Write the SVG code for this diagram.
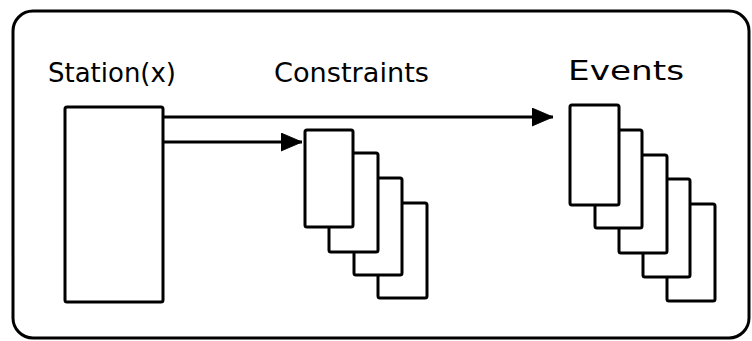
<svg xmlns="http://www.w3.org/2000/svg" width="752" height="341" viewBox="0 0 752 341">
<defs>
<style>
.ln{fill:none;stroke:#000;stroke-width:3;stroke-linejoin:round}
.card{fill:#fff;stroke:#000;stroke-width:3;stroke-linejoin:round}
.lbl{font-family:"DejaVu Sans","Liberation Sans",sans-serif;font-size:26px;fill:#000}
</style>
<marker id="ah" markerWidth="8" markerHeight="8" refX="7" refY="3" orient="auto" markerUnits="strokeWidth">
<path d="M0,0 L7,3 L0,6 Z" fill="#000" stroke="#000" stroke-width="0.3" stroke-linejoin="round"/>
</marker>
</defs>
<rect width="752" height="341" fill="#fff"/>
<g id="frame"><rect class="ln" x="13" y="11" width="736" height="327" rx="20"/></g>
<g id="station">
<text class="lbl" x="48" y="82" textLength="128" lengthAdjust="spacingAndGlyphs">Station(x)</text>
<rect class="card" x="65" y="107" width="98" height="195" rx="2"/>
</g>
<g id="constraints">
<text class="lbl" x="274" y="82" textLength="155" lengthAdjust="spacingAndGlyphs">Constraints</text>
<rect class="card" x="378" y="203" width="49" height="95" rx="2"/>
<rect class="card" x="354" y="178" width="48" height="97" rx="2"/>
<rect class="card" x="329" y="153" width="49" height="99" rx="2"/>
<rect class="card" x="305" y="130" width="48" height="97" rx="2"/>
</g>
<g id="events">
<text class="lbl" x="568" y="80" textLength="116" lengthAdjust="spacingAndGlyphs">Events</text>
<rect class="card" x="667" y="204" width="48" height="97" rx="2"/>
<rect class="card" x="643" y="179" width="47" height="98" rx="2"/>
<rect class="card" x="619" y="155" width="48" height="98" rx="2"/>
<rect class="card" x="595" y="130" width="47" height="98" rx="2"/>
<rect class="card" x="570" y="105" width="49" height="100" rx="2"/>
</g>
<g id="connectors">
<line class="ln" x1="163" y1="117" x2="553" y2="117" marker-end="url(#ah)"/>
<line class="ln" x1="163" y1="142" x2="302" y2="142" marker-end="url(#ah)"/>
</g>
</svg>
